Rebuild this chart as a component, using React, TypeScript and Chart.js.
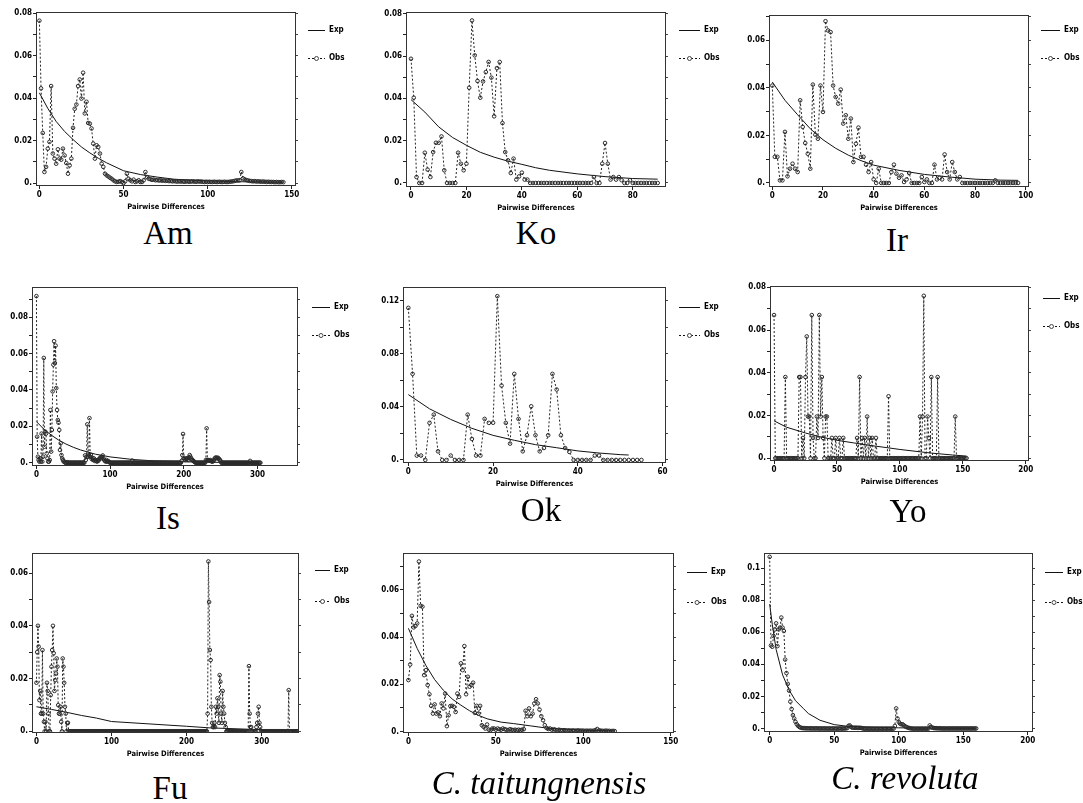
import React, { useEffect, useRef } from 'react';
import { Chart, registerables } from 'chart.js';

Chart.register(...registerables);

// ---------------- DATA ----------------
const amObs = [
  0.0765, 0.0446, 0.0236, 0.0052, 0.0076, 0.0162, 0.0194, 0.0457, 0.0139, 0.0115,
  0.0091, 0.0159, 0.0115, 0.011, 0.0162, 0.013, 0.0094, 0.0044, 0.0083, 0.0115,
  0.026, 0.035, 0.037, 0.0457, 0.0488, 0.0398, 0.052, 0.0328, 0.0383, 0.0283,
  0.028, 0.0257, 0.0186, 0.0115, 0.0178, 0.017, 0.0139, 0.0091, 0.0076, 0.0044,
  0.0036, 0.0031, 0.0025, 0.002, 0.0013, 0.0008, 0.0005, 0.0006, 0.0009, 0.0005,
  0.0, 0.0008, 0.0044, 0.002, 0.0013, 0.0008, 0.0016, 0.0005, 0.0008, 0.0013,
  0.0005, 0.0005, 0.0013, 0.0052, 0.0028, 0.002, 0.0018, 0.0015, 0.0016, 0.0013,
  0.0014, 0.0012, 0.0013, 0.0011, 0.0012, 0.001, 0.0011, 0.0009, 0.001, 0.0008,
  0.0009, 0.0008, 0.0007, 0.0008, 0.0007, 0.0008, 0.0006, 0.0007, 0.0008, 0.0006,
  0.0007, 0.0008, 0.0007, 0.0006, 0.0008, 0.0007, 0.0007, 0.0006, 0.0005, 0.0006,
  0.0005, 0.0006, 0.0005, 0.0005, 0.0006, 0.0005, 0.0005, 0.0006, 0.0005, 0.0005,
  0.0006, 0.0005, 0.0005, 0.0006, 0.0007, 0.0008, 0.001, 0.0012, 0.0012, 0.0013,
  0.0052, 0.0022, 0.0017, 0.0014, 0.0012, 0.001, 0.0009, 0.0008, 0.0009, 0.0007,
  0.0008, 0.0007, 0.0006, 0.0007, 0.0006, 0.0005, 0.0006, 0.0005, 0.0005, 0.0005,
  0.0004, 0.0005, 0.0004, 0.0004, 0.0005, 0.0004,
];
const amExpX = [0, 5, 10, 15, 20, 25, 30, 35, 40, 50, 60, 70, 80, 100, 120, 145];
const amExpY = [0.0425, 0.0352, 0.029, 0.0243, 0.0205, 0.017, 0.0142, 0.0117, 0.0095, 0.0058, 0.004, 0.0028, 0.0018, 0.001, 0.0006, 0.0004];

const koObs = [
  0.0587, 0.0403, 0.0028, 0, 0, 0.0143, 0.0063, 0.0028, 0.0146, 0.019,
  0.019, 0.022, 0.006, 0, 0, 0, 0, 0.0143, 0.0091, 0.006,
  0.0091, 0.045, 0.0768, 0.0603, 0.0482, 0.0403, 0.048, 0.0524, 0.0572, 0.0498,
  0.0315, 0.0543, 0.0572, 0.0283, 0.0146, 0.0107, 0.0047, 0.0115, 0.0016, 0.0031,
  0.0049, 0.0016, 0.0016, 0, 0, 0, 0, 0, 0, 0,
  0, 0, 0, 0, 0, 0, 0, 0, 0, 0,
  0, 0, 0, 0, 0, 0, 0.0028, 0, 0, 0.0091,
  0.0189, 0.0091, 0.0016, 0.0028, 0.0016, 0.0028, 0.0013, 0, 0, 0.0013,
  0, 0, 0, 0, 0, 0, 0, 0, 0, 0,
];
const koExpX = [0, 5, 10, 15, 20, 25, 30, 35, 40, 45, 50, 60, 70, 80, 89];
const koExpY = [0.0394, 0.0335, 0.0265, 0.0215, 0.0178, 0.0145, 0.0122, 0.0103, 0.0088, 0.0072, 0.006, 0.0043, 0.003, 0.0021, 0.0018];

const irObs = [
  0.041, 0.011, 0.011, 0.0011, 0.0011, 0.0215, 0.0028, 0.006, 0.0081, 0.006,
  0.0046, 0.0348, 0.0236, 0.0168, 0.0123, 0.006, 0.0414, 0.0203, 0.0186, 0.041,
  0.0299, 0.0681, 0.0642, 0.0635, 0.041, 0.0362, 0.0334, 0.0393, 0.025, 0.0285,
  0.0186, 0.0271, 0.0088, 0.0165, 0.0233, 0.011, 0.011, 0.0077, 0.0046, 0.0088,
  0.0015, 0, 0.006, 0, 0, 0, 0, 0.0046, 0.0077, 0.0039,
  0.0022, 0.0032, 0.0004, 0.0015, 0.0042, 0, 0, 0, 0, 0.0025,
  0.0004, 0.0015, 0, 0, 0.0077, 0.0015, 0.0022, 0.0015, 0.012, 0.0046,
  0.0015, 0.0088, 0.0046, 0.0015, 0.0025, 0, 0, 0, 0, 0,
  0, 0, 0, 0, 0, 0, 0, 0, 0.0011, 0,
  0, 0, 0, 0, 0, 0, 0, 0,
];
const irExpX = [0, 5, 10, 15, 20, 25, 30, 35, 40, 50, 60, 70, 80, 90, 97];
const irExpY = [0.0425, 0.0348, 0.0287, 0.0228, 0.0182, 0.0146, 0.0117, 0.0094, 0.0075, 0.0053, 0.0036, 0.0025, 0.0016, 0.0012, 0.0011];

const isObs = [
  0.0916, 0.0143, 0.0033, 0.0015, 0.0006, 0.0024, 0.0006, 0.016, 0.0006, 0.0033,
  0.0576, 0.0088, 0.0171, 0.016, 0.0051, 0.0024, 0.0006, 0.0006, 0.0015, 0.029,
  0.0061, 0.018, 0.0392, 0.0539, 0.0668, 0.0548, 0.0644, 0.041, 0.029, 0.0235,
  0.022, 0.018, 0.007, 0.0107, 0.0042, 0.0024, 0.0015, 0.0006, 0.0006, 0,
  0, 0, 0.0003, 0, 0, 0, 0, 0, 0, 0,
  0, 0, 0, 0, 0, 0, 0, 0, 0, 0,
  0, 0, 0, 0, 0, 0, 0.004, 0.0015, 0.0033, 0.0211,
  0.0033, 0.0042, 0.0245, 0.0033, 0.0042, 0.002, 0.0025, 0.0015, 0.0024, 0.001,
  0.0015, 0.001, 0.0006, 0.0015, 0.001, 0.0018, 0.0024, 0.003, 0.0024, 0.0033,
  0.004, 0.0024, 0.0015, 0.001, 0.0006, 0.0015, 0.0006, 0.001, 0.0006, 0.0003,
  0, 0, 0, 0, 0, 0, 0, 0, 0, 0,
  0, 0, 0, 0, 0, 0, 0, 0, 0, 0,
  0, 0, 0, 0, 0, 0, 0, 0, 0, 0,
  0.0012, 0, 0, 0, 0, 0, 0, 0, 0, 0,
  0, 0, 0, 0, 0, 0, 0, 0, 0, 0,
  0, 0, 0, 0, 0, 0, 0, 0, 0, 0,
  0, 0, 0, 0, 0, 0, 0, 0, 0, 0,
  0, 0, 0, 0, 0, 0, 0, 0, 0, 0,
  0, 0, 0, 0, 0, 0, 0, 0, 0, 0,
  0, 0, 0, 0, 0, 0, 0, 0.001, 0.0042, 0.0158,
  0.0024, 0.002, 0.0015, 0.0024, 0.002, 0.0024, 0.0015, 0.003, 0.0042, 0.0033,
  0.0024, 0.0015, 0.0015, 0.001, 0.0006, 0.0003, 0, 0, 0, 0,
  0, 0, 0, 0, 0, 0, 0, 0, 0, 0,
  0.0015, 0.0189, 0.0015, 0.0015, 0.0012, 0.0012, 0.0015, 0.001, 0.0006, 0.0006,
  0.001, 0.0015, 0.0024, 0.0028, 0.0028, 0.0024, 0.0028, 0.0024, 0.002, 0.0015,
  0.001, 0, 0, 0, 0, 0, 0, 0, 0, 0,
  0, 0, 0, 0, 0, 0, 0, 0, 0, 0,
  0, 0, 0, 0, 0, 0, 0, 0, 0, 0,
  0, 0, 0, 0, 0, 0, 0, 0, 0, 0,
  0.001, 0, 0, 0, 0, 0, 0, 0, 0, 0,
  0, 0, 0, 0, 0,
];
const isExpX = [0, 10, 20, 30, 40, 50, 60, 80, 100, 130, 160, 200, 250, 300];
const isExpY = [0.0226, 0.0185, 0.0152, 0.0125, 0.0103, 0.0085, 0.007, 0.0047, 0.0032, 0.0018, 0.001, 0.0005, 0.0002, 0.0001];

const okObs = [
  0.1145, 0.0648, 0.0033, 0.0033, 0, 0.0279, 0.0341, 0.0065, 0, 0,
  0.0033, 0, 0, 0, 0.0341, 0.0158, 0.0033, 0.0033, 0.0309, 0.0279,
  0.028, 0.1233, 0.056, 0.0279, 0.0123, 0.0648, 0.0309, 0.0065, 0.0186, 0.0404,
  0.0186, 0.0065, 0.009, 0.0186, 0.0648, 0.053, 0.0186, 0.009, 0.006, 0,
  0, 0, 0, 0, 0.0033, 0.0033, 0, 0, 0, 0,
  0, 0, 0, 0, 0, 0,
];
const okExpX = [0, 5, 10, 15, 20, 25, 30, 35, 40, 45, 50, 52];
const okExpY = [0.0492, 0.0385, 0.0305, 0.0238, 0.0185, 0.0148, 0.0115, 0.0092, 0.0068, 0.0052, 0.004, 0.0037];

const yoObs = [
  0.067, 0, 0, 0, 0, 0, 0, 0, 0, 0.038,
  0, 0, 0, 0, 0, 0, 0, 0, 0, 0,
  0.038, 0.038, 0, 0.0095, 0, 0.038, 0.057, 0.0195, 0.0195, 0,
  0.067, 0.0095, 0, 0, 0.0195, 0.0095, 0.067, 0.0195, 0.038, 0.0095,
  0, 0.0195, 0.0195, 0, 0, 0, 0.0095, 0, 0, 0.0095,
  0, 0, 0.0095, 0, 0, 0.0095, 0, 0, 0, 0,
  0, 0, 0, 0, 0, 0, 0.0095, 0, 0.038, 0,
  0.0095, 0, 0.0095, 0, 0.0195, 0, 0.0095, 0, 0.0095, 0,
  0, 0.0095, 0, 0, 0, 0, 0, 0, 0, 0,
  0, 0.029, 0, 0, 0, 0, 0, 0, 0, 0,
  0, 0, 0, 0, 0, 0, 0, 0, 0, 0,
  0, 0, 0, 0, 0, 0, 0.0195, 0, 0.0195, 0.076,
  0, 0, 0.0195, 0.0095, 0, 0.038, 0, 0, 0, 0,
  0.038, 0, 0, 0, 0, 0, 0, 0, 0, 0,
  0, 0, 0, 0, 0.0195, 0, 0, 0, 0, 0,
  0, 0, 0, 0,
];
const yoExpX = [0, 10, 25, 36, 50, 63, 75, 89, 100, 116, 125, 142, 153];
const yoExpY = [0.0175, 0.0145, 0.0118, 0.0101, 0.0084, 0.0072, 0.0061, 0.005, 0.0041, 0.003, 0.0024, 0.0015, 0.001];

const fuObs = [
  0.0184, 0.03, 0.04, 0.0321, 0.0118, 0.0153, 0.0067, 0.0067, 0.0308, 0.0067,
  0.0036, 0, 0.0036, 0, 0.0184, 0.0153, 0.0067, 0, 0, 0.0137,
  0.0245, 0.0308, 0.04, 0.0296, 0.0153, 0.0194, 0.0219, 0.0276, 0.0245, 0.0099,
  0.0067, 0.0067, 0.0093, 0.0036, 0, 0.0276, 0.0245, 0.0184, 0.0093, 0.0067,
  0, 0.0032, 0.0032, 0, 0, 0, 0, 0, 0, 0,
  0, 0, 0, 0, 0, 0, 0, 0, 0, 0,
  0, 0, 0, 0, 0, 0, 0, 0, 0, 0,
  0, 0, 0, 0, 0, 0, 0, 0, 0, 0,
  0, 0, 0, 0, 0, 0, 0, 0, 0, 0,
  0, 0, 0, 0, 0, 0, 0, 0, 0, 0,
  0, 0, 0, 0, 0, 0, 0, 0, 0, 0,
  0, 0, 0, 0, 0, 0, 0, 0, 0, 0,
  0, 0, 0, 0, 0, 0, 0, 0, 0, 0,
  0, 0, 0, 0, 0, 0, 0, 0, 0, 0,
  0, 0, 0, 0, 0, 0, 0, 0, 0, 0,
  0, 0, 0, 0, 0, 0, 0, 0, 0, 0,
  0, 0, 0, 0, 0, 0, 0, 0, 0, 0,
  0, 0, 0, 0, 0, 0, 0, 0, 0, 0,
  0, 0, 0, 0, 0, 0, 0, 0, 0, 0,
  0, 0, 0, 0, 0, 0, 0, 0, 0, 0,
  0, 0, 0, 0, 0, 0, 0, 0, 0, 0,
  0, 0, 0, 0, 0, 0, 0, 0, 0, 0,
  0, 0, 0, 0, 0, 0, 0, 0, 0.0067, 0.0644,
  0.049, 0.0308, 0.027, 0.0093, 0.0032, 0.0016, 0.0016, 0.0032, 0.0016, 0.0093,
  0.0067, 0.0125, 0.0093, 0.0032, 0.0213, 0.0188, 0.0067, 0.0032, 0.0153, 0.0093,
  0.0067, 0.0032, 0.0016, 0, 0, 0, 0, 0, 0, 0,
  0, 0, 0, 0, 0, 0, 0, 0, 0, 0,
  0, 0, 0, 0, 0, 0, 0, 0, 0, 0,
  0, 0, 0, 0.0247, 0.0067, 0.0016, 0.0016, 0, 0, 0,
  0, 0, 0, 0.0016, 0.0032, 0.0067, 0.0093, 0.0032, 0.0016, 0,
  0, 0, 0, 0, 0, 0, 0, 0, 0, 0,
  0, 0, 0, 0, 0, 0, 0, 0, 0, 0,
  0, 0, 0, 0, 0, 0, 0, 0, 0, 0,
  0, 0, 0, 0, 0, 0, 0.0156, 0, 0, 0,
  0, 0, 0, 0, 0, 0, 0, 0, 0,
];
const fuExpX = [0, 20, 40, 60, 80, 100, 150, 200, 230, 250, 300, 315];
const fuExpY = [0.0093, 0.0083, 0.0072, 0.006, 0.005, 0.0037, 0.0028, 0.0019, 0.0013, 0.0011, 0.0006, 0.0005];

const ctObs = [
  0.0218, 0.0284, 0.049, 0.0441, 0.0447, 0.0458, 0.072, 0.0532, 0.0529, 0.0239,
  0.026, 0.0197, 0.0158, 0.0109, 0.0076, 0.0115, 0.0076, 0.0081, 0.0065, 0.0119,
  0.0098, 0.0161, 0.0023, 0.0069, 0.0108, 0.0109, 0.0105, 0.0083, 0.0161, 0.0147,
  0.0289, 0.026, 0.0362, 0.0158, 0.0232, 0.019, 0.0197, 0.0207, 0.0079, 0.0109,
  0.0076, 0.0109, 0.0027, 0.002, 0.0013, 0.003, 0.0008, 0.0006, 0.0013, 0.0013,
  0.0008, 0.0013, 0.001, 0.0008, 0.0013, 0.001, 0.0008, 0.0006, 0.001, 0.0008,
  0.0006, 0.0008, 0.0006, 0.0008, 0.0006, 0.0008, 0.001, 0.0088, 0.0065, 0.0098,
  0.0065, 0.0076, 0.0119, 0.0137, 0.0119, 0.0093, 0.0065, 0.0048, 0.0027, 0.0015,
  0.0011, 0.0013, 0.0008, 0.001, 0.0008, 0.0006, 0.0008, 0.0006, 0.0005, 0.0006,
  0.0005, 0.0004, 0.0005, 0.0004, 0.0005, 0.0004, 0.0004, 0.0005, 0.0004, 0.0004,
  0.0004, 0.0003, 0.0004, 0.0003, 0.0004, 0.0003, 0.0004, 0.0006, 0.0011, 0.0005,
  0.0004, 0.0003, 0.0003, 0.0004, 0.0003, 0.0003, 0.0002, 0.0003, 0.0002,
];
const ctExpX = [0, 5, 10, 15, 20, 25, 30, 35, 40, 45, 53, 60, 70, 80, 90, 100, 118];
const ctExpY = [0.0437, 0.0352, 0.028, 0.022, 0.0175, 0.0138, 0.0112, 0.0088, 0.0069, 0.0054, 0.004, 0.0034, 0.0024, 0.0014, 0.001, 0.0006, 0.0003];

const crObs = [
  0.107, 0.0518, 0.051, 0.0577, 0.0618, 0.0656, 0.0514, 0.0618, 0.0629, 0.0692,
  0.0629, 0.0608, 0.043, 0.0346, 0.0279, 0.0237, 0.0168, 0.0122, 0.0084, 0.0063,
  0.0042, 0.0027, 0.0017, 0.001, 0.0006, 0.0004, 0.0003, 0.0003, 0.0002, 0.0002,
  0.0002, 0.0002, 0.0001, 0.0002, 0.0001, 0.0001, 0.0002, 0.0001, 0.0001, 0.0001,
  0.0001, 0.0001, 0.0001, 0.0001, 0.0001, 0, 0.0001, 0.0001, 0, 0.0001,
  0.0001, 0, 0.0001, 0, 0.0001, 0.0001, 0, 0.0001, 0.0001, 0.0002,
  0.0003, 0.0017, 0.002, 0.001, 0.0006, 0.0006, 0.0005, 0.0006, 0.0005, 0.0005,
  0.0005, 0.0004, 0.0002, 0, 0, 0, 0, 0, 0, 0,
  0, 0, 0, 0, 0, 0, 0, 0, 0, 0,
  0, 0, 0, 0, 0, 0, 0, 0.0017, 0.0126, 0.0063,
  0.0042, 0.0031, 0.0027, 0.0027, 0.002, 0.0014, 0.001, 0.0006, 0.0004, 0.0002,
  0.0001, 0, 0, 0, 0, 0, 0, 0, 0, 0,
  0, 0, 0, 0, 0.002, 0.001, 0.0006, 0.0004, 0.0003, 0.0003,
  0.0002, 0.0002, 0.0002, 0.0001, 0.0001, 0.0001, 0.0001, 0.0001, 0.0001, 0.0001,
  0.0001, 0.0001, 0.0001, 0.0001, 0.0001, 0.0001, 0.0001, 0.0001, 0.0001, 0.0001,
  0.0001, 0.0001, 0.0001, 0.0001, 0.0001, 0.0001, 0.0001, 0.0001, 0.0001, 0.0001,
  0.0001,
];
const crExpX = [0, 2, 5, 10, 15, 20, 26, 30, 39, 50, 60, 80, 100, 130, 160];
const crExpY = [0.0776, 0.065, 0.0493, 0.0335, 0.0241, 0.0174, 0.0126, 0.0094, 0.0052, 0.0025, 0.0015, 0.0008, 0.0005, 0.0003, 0.0002];

// tick values and labels
const yTicks08 = [0, 0.02, 0.04, 0.06, 0.08];
const yLabels08 = ['0.', '0.02', '0.04', '0.06', '0.08'];
const yTicks06 = [0, 0.02, 0.04, 0.06];
const yLabels06 = ['0.', '0.02', '0.04', '0.06'];
const yTicks12 = [0, 0.04, 0.08, 0.12];
const yLabels12 = ['0.', '0.04', '0.08', '0.12'];
const yTicks10 = [0, 0.02, 0.04, 0.06, 0.08, 0.1];
const yLabels10 = ['0.', '0.02', '0.04', '0.06', '0.08', '0.1'];
const xTicks150 = [0, 50, 100, 150];
const xTicks80 = [0, 20, 40, 60, 80];
const xTicks100 = [0, 20, 40, 60, 80, 100];
const xTicks300 = [0, 100, 200, 300];
const xTicks60 = [0, 20, 40, 60];
const xTicks200 = [0, 50, 100, 150, 200];

const FONT = "'DejaVu Sans Condensed', 'DejaVu Sans', sans-serif";
const SERIF = "'Liberation Serif', 'Times New Roman', serif";

type PanelDef = {
  id: string;
  caption: string;
  italic: boolean;
  cap: [number, number];
  box: [number, number, number, number];
  xr: [number, number];
  yr: [number, number];
  xTicks: number[];
  yTicks: number[];
  yLabels: string[];
  legend: [number, number, number, number];
  obs: number[];
  expX: number[];
  expY: number[];
};

const panels: PanelDef[] = [
  { id: 'am', caption: 'Am', italic: false, cap: [168, 245], box: [36, 12, 296, 186], xr: [-2, 152.5], yr: [-0.0014, 0.0806], xTicks: xTicks150, yTicks: yTicks08, yLabels: yLabels08, legend: [308, 325, 30, 58], obs: amObs, expX: amExpX, expY: amExpY },
  { id: 'ko', caption: 'Ko', italic: false, cap: [536, 245], box: [406, 12, 666, 187], xr: [-1.8, 92], yr: [-0.0019, 0.0808], xTicks: xTicks80, yTicks: yTicks08, yLabels: yLabels08, legend: [679, 700, 30, 58], obs: koObs, expX: koExpX, expY: koExpY },
  { id: 'ir', caption: 'Ir', italic: false, cap: [897, 252], box: [769, 15, 1029, 187], xr: [-1.3, 101.3], yr: [-0.0017, 0.0707], xTicks: xTicks100, yTicks: yTicks06, yLabels: yLabels06, legend: [1041, 1060, 30, 58], obs: irObs, expX: irExpX, expY: irExpY },
  { id: 'is', caption: 'Is', italic: false, cap: [168, 530], box: [32, 287, 298, 466], xr: [-6, 355], yr: [-0.0018, 0.0966], xTicks: xTicks300, yTicks: yTicks08, yLabels: yLabels08, legend: [312, 330, 307, 335], obs: isObs, expX: isExpX, expY: isExpY },
  { id: 'ok', caption: 'Ok', italic: false, cap: [541, 522], box: [403, 287, 666, 463], xr: [-1.26, 60.8], yr: [-0.0023, 0.1302], xTicks: xTicks60, yTicks: yTicks12, yLabels: yLabels12, legend: [679, 700, 307, 335], obs: okObs, expX: okExpX, expY: okExpY },
  { id: 'yo', caption: 'Yo', italic: false, cap: [908, 523], box: [770, 286, 1029, 461], xr: [-3.2, 202.6], yr: [-0.0013, 0.0806], xTicks: xTicks200, yTicks: yTicks08, yLabels: yLabels08, legend: [1043, 1060, 298, 326], obs: yoObs, expX: yoExpX, expY: yoExpY },
  { id: 'fu', caption: 'Fu', italic: false, cap: [170, 800], box: [32, 553, 299, 733], xr: [-5.9, 349.7], yr: [-0.00065, 0.0676], xTicks: xTicks300, yTicks: yTicks06, yLabels: yLabels06, legend: [315, 330, 570, 601], obs: fuObs, expX: fuExpX, expY: fuExpY },
  { id: 'ct', caption: 'C. taitungnensis', italic: true, cap: [539, 795], box: [403, 553, 674, 733], xr: [-3.1, 151.9], yr: [-0.0006, 0.0756], xTicks: xTicks150, yTicks: yTicks06, yLabels: yLabels06, legend: [687, 707, 572, 602], obs: ctObs, expX: ctExpX, expY: ctExpY },
  { id: 'cr', caption: 'C. revoluta', italic: true, cap: [905, 790], box: [764, 553, 1033, 732], xr: [-4.4, 204], yr: [-0.0021, 0.1094], xTicks: xTicks200, yTicks: yTicks10, yLabels: yLabels10, legend: [1045, 1063, 572, 602], obs: crObs, expX: crExpX, expY: crExpY },
];

const XH = 26;

function Panel({ p }: { p: PanelDef }) {
  const ref = useRef<HTMLCanvasElement | null>(null);
  const [l, t, r, b] = p.box;
  const cl = l - 46;
  const ct = t - 8;
  const cw = p.legend[1] + 30 - cl;
  const ch = b - t + 8 + XH + 2;

  useEffect(() => {
    if (!ref.current) return;
    const step = p.yTicks[1] - p.yTicks[0];
    const yAll: number[] = [];
    p.yTicks.forEach((v) => {
      yAll.push(v);
      const m = +(v + step / 2).toFixed(4);
      if (m <= p.yr[1]) yAll.push(m);
    });
    const labelOf = (v: number) => {
      const i = p.yTicks.findIndex((tv) => Math.abs(tv - v) < 1e-9);
      return i >= 0 ? p.yLabels[i] : '';
    };
    const tickFont = { family: FONT, size: 8, weight: 'bold' as const };

    const frame = {
      id: 'frame' + p.id,
      afterDraw(chart: any) {
        const { ctx, chartArea: a } = chart;
        ctx.save();
        ctx.strokeStyle = '#333';
        ctx.lineWidth = 1;
        ctx.strokeRect(Math.round(a.left) + 0.5, Math.round(a.top) + 0.5, Math.round(a.right - a.left) - 1, Math.round(a.bottom - a.top) - 1);
        // legend
        const [lx, lx2, ye, yo] = p.legend;
        const x1 = lx - cl, x2 = lx2 - cl;
        const yE = ye - ct + 0.5, yO = yo - ct + 0.5;
        ctx.strokeStyle = '#111';
        ctx.beginPath();
        ctx.moveTo(x1, yE);
        ctx.lineTo(x2, yE);
        ctx.stroke();
        ctx.setLineDash([2, 2]);
        ctx.beginPath();
        ctx.moveTo(x1, yO);
        ctx.lineTo(x2, yO);
        ctx.stroke();
        ctx.setLineDash([]);
        ctx.beginPath();
        ctx.arc((x1 + x2) / 2, yO, 2, 0, Math.PI * 2);
        ctx.fillStyle = '#fff';
        ctx.fill();
        ctx.strokeStyle = '#444';
        ctx.stroke();
        ctx.fillStyle = '#000';
        ctx.font = `bold 8px ${FONT}`;
        ctx.textBaseline = 'middle';
        ctx.textAlign = 'left';
        ctx.fillText('Exp', x2 + 4, ye - ct);
        ctx.fillText('Obs', x2 + 4, yo - ct);
        ctx.restore();
      },
    };

    const chart = new Chart(ref.current, {
      type: 'line',
      data: {
        datasets: [
          {
            label: 'Obs',
            data: p.obs.map((y, i) => ({ x: i, y })),
            borderColor: '#222',
            borderWidth: 1,
            borderDash: [2, 2],
            pointRadius: 1.8,
            pointBorderWidth: 1,
            pointBorderColor: '#2a2a2a',
            pointBackgroundColor: 'rgba(255,255,255,0)',
            tension: 0,
            order: 0,
          },
          {
            label: 'Exp',
            data: p.expX.map((x, i) => ({ x, y: p.expY[i] })),
            borderColor: '#111',
            borderWidth: 1,
            pointRadius: 0,
            tension: 0,
            order: 1,
          },
        ],
      },
      options: {
        responsive: false,
        animation: false,
        devicePixelRatio: 1,
        layout: { padding: { top: 8, left: 0, bottom: 2, right: cw - (r - cl) } },
        plugins: { legend: { display: false }, tooltip: { enabled: false } },
        scales: {
          x: {
            type: 'linear',
            min: p.xr[0],
            max: p.xr[1],
            afterBuildTicks: (s: any) => {
              s.ticks = p.xTicks.map((v) => ({ value: v }));
            },
            afterFit: (s: any) => {
              s.height = XH;
            },
            grid: { drawOnChartArea: false, drawTicks: true, tickLength: 3, color: '#222' },
            border: { display: false },
            ticks: { autoSkip: false, maxRotation: 0, padding: 1, color: '#000', font: tickFont, callback: (v: any) => String(v) },
            title: { display: true, text: 'Pairwise Differences', color: '#000', font: { family: FONT, size: 7.5, weight: 'bold' }, padding: 0 },
          },
          y: {
            type: 'linear',
            position: 'left',
            min: p.yr[0],
            max: p.yr[1],
            afterBuildTicks: (s: any) => {
              s.ticks = yAll.map((v) => ({ value: v }));
            },
            afterFit: (s: any) => {
              s.width = l - cl;
            },
            grid: { drawOnChartArea: false, drawTicks: true, tickLength: 3, color: '#222' },
            border: { display: false },
            ticks: { autoSkip: false, padding: 1, color: '#000', font: tickFont, callback: (v: any) => labelOf(Number(v)) },
          },
          y2: {
            type: 'linear',
            position: 'right',
            min: p.yr[0],
            max: p.yr[1],
            afterBuildTicks: (s: any) => {
              s.ticks = yAll.map((v) => ({ value: v }));
            },
            afterFit: (s: any) => {
              s.width = 0;
            },
            grid: { drawOnChartArea: false, drawTicks: true, tickLength: 2, color: '#444' },
            border: { display: false },
            ticks: { display: false },
          },
        },
      } as any,
      plugins: [frame],
    });
    return () => chart.destroy();
  }, []);

  return (
    <canvas
      ref={ref}
      width={cw}
      height={ch}
      style={{ position: 'absolute', left: cl, top: ct, width: cw, height: ch }}
    />
  );
}

export default function App() {
  const fs = 33;
  return (
    <div style={{ position: 'fixed', left: 0, top: 0, width: 1083, height: 803, background: '#fff', overflow: 'hidden' }}>
      {panels.map((p) => (
        <Panel key={p.id} p={p} />
      ))}
      {panels.map((p) => (
        <div
          key={'c' + p.id}
          style={{
            position: 'absolute',
            left: p.cap[0] - 200,
            width: 400,
            top: p.cap[1] - 0.8375 * fs,
            textAlign: 'center',
            fontFamily: SERIF,
            fontSize: fs,
            lineHeight: `${fs}px`,
            fontStyle: p.italic ? 'italic' : 'normal',
            color: '#000',
            whiteSpace: 'nowrap',
          }}
        >
          {p.caption}
        </div>
      ))}
    </div>
  );
}
